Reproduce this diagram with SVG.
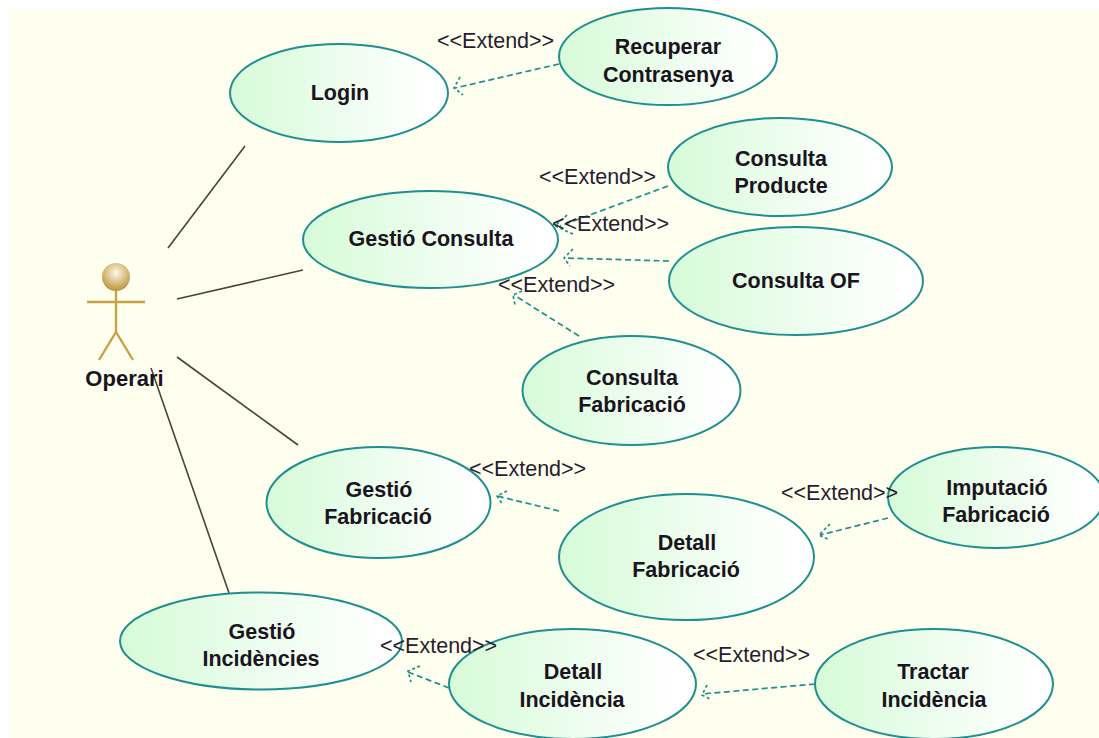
<svg xmlns="http://www.w3.org/2000/svg" width="1099" height="738" viewBox="0 0 1099 738">
<style>
.uc{fill:url(#ucf);stroke:#1f8f8f;stroke-width:2}
.n{font-family:"Liberation Sans",Arial,sans-serif;font-weight:700;font-size:21.500px;fill:#1a1420;text-anchor:middle}
.e{font-family:"Liberation Sans",Arial,sans-serif;font-size:21.500px;fill:#2a1c30}
.a{fill:none;stroke:#4a4438;stroke-width:1.6}
.d{fill:none;stroke:#1f8f8f;stroke-width:1.7;stroke-dasharray:6 3.500}
.h{fill:none;stroke:#1f8f8f;stroke-width:1.7;stroke-dasharray:3 2.500}
.s{fill:none;stroke:#c9a043;stroke-width:2.400}
</style>
<defs>
<linearGradient id="ucf" x1="0" x2="1" y1="0" y2="0"><stop offset="0" stop-color="#d6fbd8"/><stop offset="0.92" stop-color="#ffffff"/></linearGradient>
<radialGradient id="hd" cx="0.5" cy="0.35" r="0.65"><stop offset="0" stop-color="#fdf8e8"/><stop offset="1" stop-color="#bd9336"/></radialGradient>
</defs>
<rect width="1099" height="738" fill="#ffffff"/>
<rect x="8" y="8" width="1091" height="730" fill="#ffffef"/>
<g id="connectors">
<path class="a" d="M168 248L245 146"/>
<path class="a" d="M177 299L303 270"/>
<path class="a" d="M177 357L298 445"/>
<path class="a" d="M151 368L229 593"/>
<path class="d" d="M559 64L455 88"/><path class="h" d="M460 77L454 88L463 95"/>
<path class="d" d="M668 186L560 226"/><path class="h" d="M567 215L555 226L575 235"/>
<path class="d" d="M669 261L564 258"/><path class="h" d="M573 249L564 258L570 266"/>
<path class="d" d="M579 336L514 295"/><path class="h" d="M522 291L513 295L515 305"/>
<path class="d" d="M559 511L497 496"/><path class="h" d="M507 491L497 496L503 505"/>
<path class="d" d="M888 518L820 535"/><path class="h" d="M830 524L819 535L830 540"/>
<path class="d" d="M449 688L408 672"/><path class="h" d="M420 666L408 671L411 682"/>
<path class="d" d="M815 684L702 694"/><path class="h" d="M707 685L702 695L710 699"/>
</g>
<g id="login"><ellipse class="uc" cx="339" cy="93" rx="109" ry="49"/><text class="n" x="340" y="100">Login</text></g>
<g id="recuperar"><ellipse class="uc" cx="668" cy="56.500" rx="109" ry="48.500"/><text class="n" x="668" y="54">Recuperar</text><text class="n" x="668" y="82">Contrasenya</text></g>
<g id="producte"><ellipse class="uc" cx="780" cy="167" rx="112" ry="49"/><text class="n" x="781" y="166">Consulta</text><text class="n" x="781" y="193">Producte</text></g>
<g id="gestio-consulta"><ellipse class="uc" cx="430.500" cy="239.500" rx="127.500" ry="48.500"/><text class="n" x="431" y="246">Gestió Consulta</text></g>
<g id="consulta-of"><ellipse class="uc" cx="796" cy="281" rx="127" ry="54"/><text class="n" x="796" y="288">Consulta OF</text></g>
<g id="consulta-fabricacio"><ellipse class="uc" cx="631.500" cy="390.500" rx="109" ry="54.500"/><text class="n" x="632" y="385">Consulta</text><text class="n" x="632" y="412">Fabricació</text></g>
<g id="gestio-fabricacio"><ellipse class="uc" cx="378.500" cy="502.500" rx="112" ry="55.500"/><text class="n" x="379" y="497">Gestió</text><text class="n" x="378" y="524">Fabricació</text></g>
<g id="detall-fabricacio"><ellipse class="uc" cx="686.500" cy="557" rx="127.500" ry="63"/><text class="n" x="687" y="550">Detall</text><text class="n" x="686" y="577">Fabricació</text></g>
<g id="imputacio"><ellipse class="uc" cx="996" cy="497.500" rx="108" ry="50.500"/><text class="n" x="997" y="495">Imputació</text><text class="n" x="996" y="522">Fabricació</text></g>
<g id="gestio-incidencies"><ellipse class="uc" cx="261" cy="641" rx="141" ry="48.500"/><text class="n" x="262" y="639">Gestió</text><text class="n" x="261" y="666">Incidències</text></g>
<g id="detall-incidencia"><ellipse class="uc" cx="572.500" cy="684" rx="123.500" ry="55"/><text class="n" x="573" y="679">Detall</text><text class="n" x="572" y="707">Incidència</text></g>
<g id="tractar"><ellipse class="uc" cx="934" cy="684" rx="119" ry="55"/><text class="n" x="933" y="679">Tractar</text><text class="n" x="934" y="707">Incidència</text></g>
<g id="operari">
<circle cx="116" cy="277" r="14" fill="url(#hd)"/>
<path class="s" d="M116 291V332M87 302H145M99 360L116 332L133 360"/>
<text class="n" x="124.500" y="386" style="font-size:22px">Operari</text>
</g>
<g id="extend-labels">
<text class="e" x="437" y="48">&lt;&lt;Extend&gt;&gt;</text>
<text class="e" x="539" y="184">&lt;&lt;Extend&gt;&gt;</text>
<text class="e" x="552" y="231">&lt;&lt;Extend&gt;&gt;</text>
<text class="e" x="498" y="292">&lt;&lt;Extend&gt;&gt;</text>
<text class="e" x="469" y="476">&lt;&lt;Extend&gt;&gt;</text>
<text class="e" x="781" y="500">&lt;&lt;Extend&gt;&gt;</text>
<text class="e" x="380" y="653">&lt;&lt;Extend&gt;&gt;</text>
<text class="e" x="693" y="662">&lt;&lt;Extend&gt;&gt;</text>
</g>
</svg>
